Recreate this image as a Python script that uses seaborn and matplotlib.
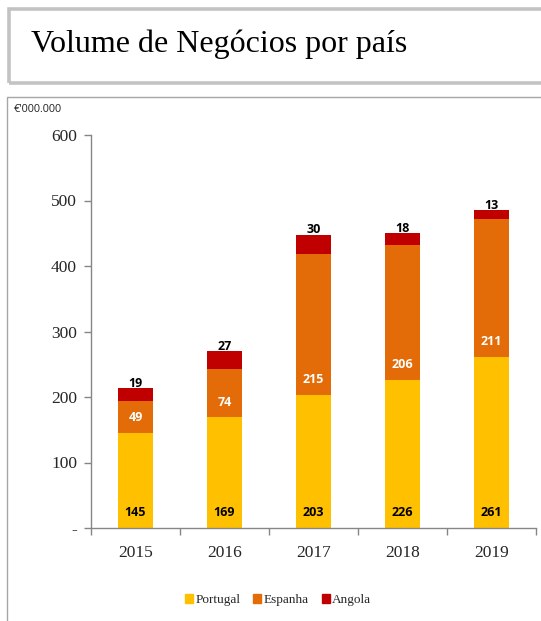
import matplotlib
matplotlib.use("Agg")
import matplotlib.pyplot as plt
import matplotlib.patches as mpatches
import seaborn as sns
import pandas as pd
import numpy as np

years = ["2015", "2016", "2017", "2018", "2019"]
portugal = [145, 169, 203, 226, 261]
espanha = [49, 74, 215, 206, 211]
angola = [19, 27, 30, 18, 13]
series_names = ["Portugal", "Espanha", "Angola"]
colors = ["#FFC000", "#E36C09", "#C00000"]

sns.set_style("white")
plt.rcParams['font.family'] = ['Liberation Serif', 'DejaVu Serif']

W, H = 541, 621
fig = plt.figure(figsize=(W / 100, H / 100), dpi=100)

def fx(px):
    return px / W

def fy(py):
    return 1 - py / H

# title box
fig.patches.append(mpatches.Rectangle((fx(9), fy(83)), fx(560 - 9), fy(9) - fy(83),
                                      transform=fig.transFigure, fill=False,
                                      edgecolor="#C3C3C3", linewidth=2.6))
fig.text(fx(31), fy(44), "Volume de Negócios por país", fontsize=23,
         family=['Liberation Serif'], va="center", ha="left", color="black")

# panel box
fig.patches.append(mpatches.Rectangle((fx(7), fy(640)), fx(560 - 7), fy(97) - fy(640),
                                      transform=fig.transFigure, fill=False,
                                      edgecolor="#A6A6A6", linewidth=1.0))
fig.text(fx(14), fy(110), "€'000.000", fontsize=7.8, family=['Open Sans', 'DejaVu Sans'],
         va="center", ha="left", color="#222222")

ax = fig.add_axes([fx(91), fy(528), fx(536) - fx(91), fy(135) - fy(528)])

pt = np.array(portugal)
es = np.array(espanha)
an = np.array(angola)
df = pd.DataFrame({"year": years, "total": pt + es + an, "ptes": pt + es, "pt": pt})

sns.barplot(data=df, x="year", y="total", color=colors[2], width=0.4, ax=ax,
            saturation=1, edgecolor="none", linewidth=0)
sns.barplot(data=df, x="year", y="ptes", color=colors[1], width=0.4, ax=ax,
            saturation=1, edgecolor="none", linewidth=0)
sns.barplot(data=df, x="year", y="pt", color=colors[0], width=0.4, ax=ax,
            saturation=1, edgecolor="none", linewidth=0)

ax.set_ylim(0, 600)
ax.set_xlim(-0.5, 4.5)
ax.set_xlabel("")
ax.set_ylabel("")
ax.set_yticks([0, 100, 200, 300, 400, 500, 600])
ax.set_yticklabels(["-", "100", "200", "300", "400", "500", "600"])
ax.set_xticks(range(5))
ax.set_xticklabels(years)
ax.set_xticks(np.arange(-0.5, 5.0, 1.0), minor=True)
ax.tick_params(axis="x", which="major", bottom=True, length=0, pad=12, labelsize=12.5)
ax.tick_params(axis="x", which="minor", bottom=True, length=5, direction="out",
               color="#868686", width=1)
ax.tick_params(axis="y", left=True, length=5, direction="out", color="#868686", width=1,
               labelsize=12.5, pad=5)
for s in ["top", "right"]:
    ax.spines[s].set_visible(False)
for s in ["left", "bottom"]:
    ax.spines[s].set_color("#868686")
    ax.spines[s].set_linewidth(1)
ax.patch.set_alpha(0)

lab_font = dict(fontsize=9, fontweight="bold", family=['Open Sans', 'DejaVu Sans'],
                ha="center", va="center")
for i in range(5):
    ax.text(i, 24, str(portugal[i]), color="black", **lab_font)
    ax.text(i, pt[i] + 23, str(espanha[i]), color="white", **lab_font)
    ax.text(i, pt[i] + es[i] + an[i] + 7, str(angola[i]), color="black", **lab_font)

handles = [mpatches.Patch(color=c, label=n) for c, n in zip(colors, series_names)]
fig.legend(handles=handles, loc="center", bbox_to_anchor=(fx(278), fy(600)), ncol=3,
           frameon=False, fontsize=9.5, handlelength=0.6, handleheight=0.6,
           handletextpad=0.15, columnspacing=1.0)

fig.savefig("out.png", dpi=100)
